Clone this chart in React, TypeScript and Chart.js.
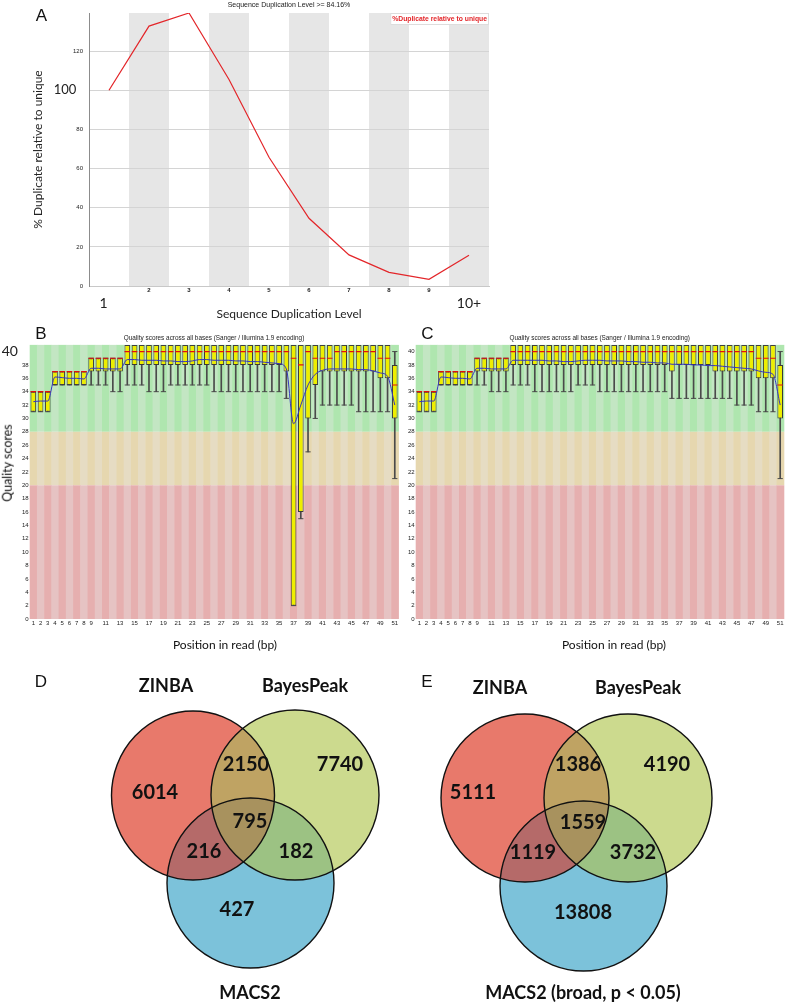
import React, { useEffect, useRef } from "react";
import { Chart, registerables } from "chart.js";

Chart.register(...registerables);

// ---------------- Panel A data ----------------
const dupLevels = ["1", "2", "3", "4", "5", "6", "7", "8", "9", "10+"];
const dupPercent = [100, 132.8, 139.5, 105.5, 65.8, 34.6, 15.9, 7.0, 3.4, 15.7];
const dupAxisMax = 139.5;
const dupTickStep = 20;
const dupTitle = "Sequence Duplication Level >= 84.16%";
const dupSeriesName = "%Duplicate relative to unique";

// ---------------- Panels B / C data ----------------
const readPositions = [
  "1", "2", "3", "4", "5", "6", "7", "8", "9", "10", "11", "12", "13", "14", "15", "16", "17",
  "18", "19", "20", "21", "22", "23", "24", "25", "26", "27", "28", "29", "30", "31", "32", "33",
  "34", "35", "36", "37", "38", "39", "40", "41", "42", "43", "44", "45", "46", "47", "48", "49",
  "50", "51",
];
const qualTitle = "Quality scores across all bases (Sanger / Illumina 1.9 encoding)";
const qualTickStep = 2;
const qualAxisMax = 41;

const q1B = [31, 31, 31, 35, 35, 35, 35, 35, 37, 37, 37, 37, 37, 38, 38, 38, 38, 38, 38, 38, 38, 38, 38, 38, 38, 38, 38, 38, 38, 38, 38, 38, 38, 38, 38, 37, 2, 16, 30, 35, 37, 37, 37, 37, 37, 37, 37, 37, 36, 36, 30];
const q3B = [34, 34, 34, 37, 37, 37, 37, 37, 39, 39, 39, 39, 39, 41, 41, 41, 41, 41, 41, 41, 41, 41, 41, 41, 41, 41, 41, 41, 41, 41, 41, 41, 41, 41, 41, 41, 41, 41, 41, 41, 41, 41, 41, 41, 41, 41, 41, 41, 41, 41, 38];
const medB = [34, 34, 34, 37, 37, 37, 37, 37, 39, 39, 39, 39, 39, 40, 40, 40, 40, 40, 40, 40, 40, 40, 40, 40, 40, 40, 40, 40, 40, 40, 40, 40, 40, 40, 40, 40, 39, 38, 40, 39, 39, 39, 40, 40, 40, 40, 40, 40, 39, 39, 35];
const lowB = [31, 31, 31, 35, 35, 35, 35, 35, 35, 35, 35, 34, 34, 35, 35, 35, 34, 34, 34, 35, 35, 35, 35, 35, 35, 34, 34, 34, 34, 34, 34, 34, 34, 34, 34, 33, 2, 15, 25, 30, 32, 32, 32, 32, 32, 31, 31, 31, 31, 31, 21];
const highB = [34, 34, 34, 37, 37, 37, 37, 37, 39, 39, 39, 39, 39, 41, 41, 41, 41, 41, 41, 41, 41, 41, 41, 41, 41, 41, 41, 41, 41, 41, 41, 41, 41, 41, 41, 41, 41, 41, 41, 41, 41, 41, 41, 41, 41, 41, 41, 41, 41, 41, 40];
const meanB = [32.5, 32.6, 32.6, 36.2, 36.1, 36.0, 36.0, 35.9, 37.5, 37.5, 37.4, 37.4, 37.4, 38.8, 38.8, 38.7, 38.7, 38.7, 38.6, 38.6, 38.5, 38.5, 38.6, 38.8, 38.8, 38.7, 38.7, 38.7, 38.6, 38.6, 38.5, 38.5, 38.4, 38.3, 38.2, 37.4, 29.2, 32.0, 35.0, 36.6, 37.2, 37.4, 37.4, 37.4, 37.4, 37.3, 37.3, 37.1, 36.8, 36.3, 32.0];

const q1C = [31, 31, 31, 35, 35, 35, 35, 35, 37, 37, 37, 37, 37, 38, 38, 38, 38, 38, 38, 38, 38, 38, 38, 38, 38, 38, 38, 38, 38, 38, 38, 38, 38, 38, 38, 37, 38, 38, 38, 38, 38, 37, 37, 37, 37, 37, 37, 36, 36, 36, 30];
const q3C = [34, 34, 34, 37, 37, 37, 37, 37, 39, 39, 39, 39, 39, 41, 41, 41, 41, 41, 41, 41, 41, 41, 41, 41, 41, 41, 41, 41, 41, 41, 41, 41, 41, 41, 41, 41, 41, 41, 41, 41, 41, 41, 41, 41, 41, 41, 41, 41, 41, 41, 38];
const medC = [34, 34, 34, 37, 37, 37, 37, 37, 39, 39, 39, 39, 39, 40, 40, 40, 40, 40, 40, 40, 40, 40, 40, 40, 40, 40, 40, 40, 40, 40, 40, 40, 40, 40, 40, 40, 40, 40, 40, 40, 40, 40, 40, 40, 40, 40, 40, 39, 39, 39, 35];
const lowC = [31, 31, 31, 35, 35, 35, 35, 35, 35, 35, 34, 34, 34, 35, 35, 35, 34, 34, 34, 34, 34, 34, 35, 35, 35, 34, 34, 34, 34, 34, 34, 34, 34, 34, 34, 33, 33, 33, 33, 33, 33, 33, 33, 33, 32, 32, 32, 31, 31, 31, 21];
const highC = [34, 34, 34, 37, 37, 37, 37, 37, 39, 39, 39, 39, 39, 41, 41, 41, 41, 41, 41, 41, 41, 41, 41, 41, 41, 41, 41, 41, 41, 41, 41, 41, 41, 41, 41, 41, 41, 41, 41, 41, 41, 41, 41, 41, 41, 41, 41, 41, 41, 41, 40];
const meanC = [32.5, 32.6, 32.6, 36.2, 36.1, 36.0, 36.0, 35.9, 37.5, 37.5, 37.4, 37.4, 37.4, 38.7, 38.7, 38.7, 38.7, 38.7, 38.6, 38.6, 38.5, 38.5, 38.6, 38.7, 38.7, 38.7, 38.6, 38.6, 38.6, 38.5, 38.5, 38.4, 38.4, 38.3, 38.3, 38.1, 38.1, 38.1, 38.0, 38.0, 37.9, 37.9, 37.8, 37.7, 37.6, 37.5, 37.4, 37.1, 36.9, 36.6, 32.0];

// ---------------- Panels D / E data ----------------
// region order: A only, B only, C only, A&B, A&C, B&C, A&B&C
const vennSetsD = ["ZINBA", "BayesPeak", "MACS2"];
const vennCountsD = [6014, 7740, 427, 2150, 216, 182, 795];
const vennSetsE = ["ZINBA", "BayesPeak", "MACS2 (broad, p < 0.05)"];
const vennCountsE = [5111, 4190, 13808, 1386, 1119, 3732, 1559];

// ---------------- styling / layout ----------------
const SMALL = "'Liberation Sans', Arial, sans-serif";
const BIG = "Lato, 'Open Sans', sans-serif";

const VENN_COLORS = ["#e8796b", "#ccda8e", "#7cc2da", "#bfa363", "#b56a69", "#9cc283", "#a8925e"];

const VENN_LAYOUT_D = {
  width: 395,
  height: 346,
  circles: [
    { cx: 193, cy: 135.5, rx: 81.5, ry: 84.5 },
    { cx: 295, cy: 135, rx: 84, ry: 85 },
    { cx: 250.5, cy: 223, rx: 83.5, ry: 85 },
  ],
  setLabels: [
    { x: 166, y: 26 },
    { x: 305, y: 26 },
    { x: 250, y: 333 },
  ],
  countPos: [
    { x: 155, y: 133 },
    { x: 340, y: 105 },
    { x: 237, y: 250 },
    { x: 246, y: 105 },
    { x: 204, y: 192 },
    { x: 296, y: 192 },
    { x: 250, y: 162 },
  ],
};

const VENN_LAYOUT_E = {
  width: 394,
  height: 346,
  circles: [
    { cx: 130, cy: 138, rx: 84, ry: 84 },
    { cx: 233, cy: 138, rx: 84, ry: 84 },
    { cx: 188.5, cy: 226, rx: 83.5, ry: 85 },
  ],
  setLabels: [
    { x: 105, y: 28 },
    { x: 243, y: 28 },
    { x: 188, y: 333 },
  ],
  countPos: [
    { x: 78, y: 133 },
    { x: 272, y: 105 },
    { x: 188, y: 253 },
    { x: 183, y: 105 },
    { x: 138, y: 193 },
    { x: 238, y: 193 },
    { x: 188, y: 163 },
  ],
};

// ---------------- plugins ----------------
const dupBandsPlugin = {
  id: "dupBands",
  beforeDraw(chart: any) {
    const { ctx, chartArea: a, scales } = chart;
    const x = scales.x;
    const n = chart.data.labels.length;
    const w = (a.right - a.left) / n;
    ctx.save();
    ctx.fillStyle = "#e6e6e6";
    for (let i = 1; i < n; i += 2) {
      const cx = x.getPixelForValue(i);
      ctx.fillRect(cx - w / 2, a.top, w, a.bottom - a.top);
    }
    ctx.restore();
  },
};

const seriesKeyPlugin = {
  id: "seriesKey",
  afterDraw(chart: any) {
    const { ctx, chartArea: a } = chart;
    const ds = chart.data.datasets[0];
    ctx.save();
    ctx.font = `bold 6.8px ${SMALL}`;
    const tw = ctx.measureText(ds.label).width;
    const h = 12;
    const x0 = a.right - tw - 4;
    const y0 = a.top;
    ctx.fillStyle = "#ffffff";
    ctx.fillRect(x0, y0, tw + 4, h);
    ctx.strokeStyle = "#dddddd";
    ctx.lineWidth = 1;
    ctx.strokeRect(x0 + 0.5, y0 + 0.5, tw + 3, h - 1);
    ctx.fillStyle = ds.borderColor;
    ctx.textBaseline = "middle";
    ctx.textAlign = "left";
    ctx.fillText(ds.label, x0 + 2, y0 + h / 2 + 0.5);
    ctx.restore();
  },
};

const qualZones = [
  { from: 28, to: qualAxisMax, colors: ["#afe6af", "#c3e6c3"] },
  { from: 20, to: 28, colors: ["#e6d7af", "#e6dcc3"] },
  { from: 0, to: 20, colors: ["#e6afaf", "#e6c3c3"] },
];

const qualStripesPlugin = {
  id: "qualStripes",
  beforeDraw(chart: any) {
    const { ctx, chartArea: a, scales } = chart;
    const x = scales.x;
    const y = scales.y;
    const n = chart.data.labels.length;
    const w = (a.right - a.left) / n;
    ctx.save();
    for (const z of qualZones) {
      const top = y.getPixelForValue(z.to);
      const bot = y.getPixelForValue(z.from);
      for (let i = 0; i < n; i++) {
        const cx = x.getPixelForValue(i);
        ctx.fillStyle = z.colors[i % 2];
        ctx.fillRect(cx - w / 2, top, w + 0.5, bot - top);
      }
    }
    ctx.restore();
  },
};

const vennPlugin = {
  id: "venn",
  afterDatasetsDraw(chart: any, _args: any, opts: any) {
    const { ctx, scales } = chart;
    const x = scales.x;
    const y = scales.y;
    const layout = opts.layout;
    const ell = (c: any) => {
      const px = x.getPixelForValue(c.cx);
      const py = y.getPixelForValue(c.cy);
      const rx = Math.abs(x.getPixelForValue(c.cx + c.rx) - px);
      const ry = Math.abs(y.getPixelForValue(c.cy + c.ry) - py);
      ctx.beginPath();
      ctx.ellipse(px, py, rx, ry, 0, 0, Math.PI * 2);
    };
    const cs = layout.circles;
    const colors = opts.colors;
    ctx.save();
    cs.forEach((c: any, i: number) => {
      ell(c);
      ctx.fillStyle = colors[i];
      ctx.fill();
    });
    const pairs = [
      [0, 1, 3],
      [0, 2, 4],
      [1, 2, 5],
    ];
    pairs.forEach(([a, b, k]) => {
      ctx.save();
      ell(cs[a]);
      ctx.clip();
      ell(cs[b]);
      ctx.fillStyle = colors[k];
      ctx.fill();
      ctx.restore();
    });
    ctx.save();
    ell(cs[0]);
    ctx.clip();
    ell(cs[1]);
    ctx.clip();
    ell(cs[2]);
    ctx.fillStyle = colors[6];
    ctx.fill();
    ctx.restore();
    ctx.strokeStyle = "#111111";
    ctx.lineWidth = 1.4;
    cs.forEach((c: any) => {
      ell(c);
      ctx.stroke();
    });
    // texts
    ctx.fillStyle = "#111111";
    ctx.textAlign = "center";
    ctx.textBaseline = "middle";
    ctx.font = `bold 20px ${BIG}`;
    opts.counts.forEach((v: number, i: number) => {
      const p = layout.countPos[i];
      ctx.fillText(String(v), x.getPixelForValue(p.x), y.getPixelForValue(p.y));
    });
    ctx.font = `bold 18px ${BIG}`;
    chart.data.datasets.forEach((ds: any, i: number) => {
      const p = layout.setLabels[i];
      ctx.fillText(ds.label, x.getPixelForValue(p.x), y.getPixelForValue(p.y));
    });
    ctx.restore();
  },
};

// ---------------- configs ----------------
function makeDupConfig(): any {
  return {
    type: "line",
    data: {
      labels: dupLevels,
      datasets: [
        {
          label: dupSeriesName,
          data: dupPercent,
          borderColor: "#e3262a",
          borderWidth: 1.2,
          pointRadius: 0,
          tension: 0,
          fill: false,
        },
      ],
    },
    options: {
      responsive: false,
      animation: false,
      layout: { padding: { left: 0, right: 11, top: 0, bottom: 0 } },
      plugins: {
        legend: { display: false },
        tooltip: { enabled: false },
        title: {
          display: true,
          text: dupTitle,
          fullSize: false,
          color: "#222",
          font: { family: SMALL, size: 7, weight: "normal" },
          padding: { top: 1, bottom: 3.6 },
        },
      },
      scales: {
        x: {
          type: "category",
          offset: true,
          grid: { display: false, drawTicks: false },
          border: { display: true, color: "#c8c8c8" },
          ticks: {
            autoSkip: false,
            maxRotation: 0,
            minRotation: 0,
            padding: 1,
            color: "#222",
            font: (c: any) =>
              c.index === 0 || c.index === dupLevels.length - 1
                ? { family: BIG, size: 14, lineHeight: 2.3 }
                : { family: SMALL, size: 6, weight: "bold" },
            callback: function (this: any, v: any, i: number) {
              const l = this.getLabelForValue(v);
              return i === 0 ? l + "   " : l;
            },
          },
          afterFit: (s: any) => {
            s.height = 39;
          },
          title: {
            display: true,
            text: "Sequence Duplication Level",
            color: "#222",
            font: { family: BIG, size: 12 },
            padding: { top: 0, bottom: 3.8 },
          },
        },
        y: {
          min: 0,
          max: dupAxisMax,
          grid: { color: "#d4d4d4", drawTicks: false },
          border: { display: true, color: "#8c8c8c" },
          ticks: {
            stepSize: dupTickStep,
            includeBounds: false,
            autoSkip: false,
            padding: 6,
            color: "#222",
            font: (c: any) =>
              c.tick && c.tick.value === 100
                ? { family: BIG, size: 13 }
                : { family: SMALL, size: 6 },
            callback: (v: any) => (v === 100 ? "100  " : String(v)),
          },
          afterFit: (s: any) => {
            s.width = 89;
          },
          title: {
            display: true,
            text: "% Duplicate relative to unique",
            color: "#222",
            font: { family: BIG, size: 12 },
            padding: { top: 30.8, bottom: 0 },
          },
        },
      },
    },
    plugins: [dupBandsPlugin, seriesKeyPlugin],
  };
}

function makeQualConfig(p: any): any {
  const { q1, q3, med, low, high, mean, bigTop, axisWidth, padRight } = p;
  return {
    type: "bar",
    data: {
      labels: readPositions,
      datasets: [
        {
          type: "bar",
          label: "10%-90%",
          data: low.map((l: number, i: number) => [l, high[i]]),
          backgroundColor: "#4a4a4a",
          barThickness: 1,
          grouped: false,
          order: 5,
        },
        {
          type: "bar",
          label: "Inter-quartile range",
          data: q1.map((v: number, i: number) => [v, q3[i]]),
          backgroundColor: "#eeee00",
          borderColor: "#3a3a3a",
          borderWidth: 1,
          borderSkipped: false,
          barPercentage: 0.78,
          categoryPercentage: 1,
          grouped: false,
          order: 4,
        },
        {
          type: "line",
          label: "10% cap",
          data: low,
          showLine: false,
          pointStyle: "line",
          pointRadius: 2.6,
          pointBorderColor: "#4a4a4a",
          pointBorderWidth: 1,
          order: 3,
        },
        {
          type: "line",
          label: "90% cap",
          data: high,
          showLine: false,
          pointStyle: "line",
          pointRadius: 2.6,
          pointBorderColor: "#4a4a4a",
          pointBorderWidth: 1,
          order: 3,
        },
        {
          type: "line",
          label: "Median",
          data: med,
          showLine: false,
          pointStyle: "line",
          pointRadius: 2.8,
          pointBorderColor: "#e01010",
          pointBorderWidth: 1.2,
          order: 2,
        },
        {
          type: "line",
          label: "Mean",
          data: mean,
          borderColor: "#3535c0",
          borderWidth: 1,
          pointRadius: 0,
          cubicInterpolationMode: "monotone",
          order: 1,
        },
      ],
    },
    options: {
      responsive: false,
      animation: false,
      layout: { padding: { left: 0, right: padRight, top: 0, bottom: 0 } },
      plugins: {
        legend: { display: false },
        tooltip: { enabled: false },
        title: {
          display: true,
          text: qualTitle,
          fullSize: false,
          color: "#222",
          font: { family: SMALL, size: 6.4, weight: "normal" },
          padding: { top: 4.6, bottom: 2.6 },
        },
      },
      scales: {
        x: {
          grid: { display: false, drawTicks: false },
          border: { display: false },
          ticks: {
            autoSkip: false,
            maxRotation: 0,
            minRotation: 0,
            padding: 1,
            color: "#222",
            font: { family: SMALL, size: 6 },
            callback: function (this: any, v: any, i: number) {
              return i < 9 || i % 2 === 0 ? this.getLabelForValue(v) : "";
            },
          },
          afterFit: (s: any) => {
            s.height = 46;
          },
        },
        y: {
          min: 0,
          max: qualAxisMax,
          grid: { display: false, drawTicks: false },
          border: { display: false },
          ticks: {
            stepSize: qualTickStep,
            includeBounds: false,
            autoSkip: false,
            padding: 1,
            color: "#222",
            font: (c: any) =>
              bigTop && c.tick && c.tick.value === 40
                ? { family: BIG, size: 14 }
                : { family: SMALL, size: 6 },
            callback: (v: any) => (bigTop && v === 40 ? "40   " : String(v)),
          },
          afterFit: (s: any) => {
            s.width = axisWidth;
          },
        },
      },
    },
    plugins: [qualStripesPlugin],
  };
}

function makeVennConfig(sets: string[], counts: number[], layout: any): any {
  return {
    type: "scatter",
    data: {
      datasets: sets.map((name, i) => ({
        label: name,
        data: [{ x: layout.circles[i].cx, y: layout.circles[i].cy }],
        pointRadius: 0,
      })),
    },
    options: {
      responsive: false,
      animation: false,
      layout: { padding: 0 },
      plugins: {
        legend: { display: false },
        tooltip: { enabled: false },
        venn: { layout, counts, colors: VENN_COLORS },
      },
      scales: {
        x: { type: "linear", min: 0, max: layout.width, display: false },
        y: { type: "linear", min: 0, max: layout.height, reverse: true, display: false },
      },
    },
    plugins: [vennPlugin],
  };
}

// ---------------- components ----------------
function ChartBox(props: { left: number; top: number; width: number; height: number; make: () => any }) {
  const ref = useRef<HTMLCanvasElement | null>(null);
  useEffect(() => {
    const chart = new Chart(ref.current as HTMLCanvasElement, props.make());
    return () => chart.destroy();
  }, []);
  return (
    <canvas
      ref={ref}
      width={props.width}
      height={props.height}
      style={{ position: "absolute", left: props.left, top: props.top, width: props.width, height: props.height }}
    />
  );
}

function Txt(props: { x: number; y: number; size: number; family?: string; rotate?: number; children: any; weight?: string }) {
  return (
    <div
      style={{
        position: "absolute",
        left: props.x,
        top: props.y,
        transform: `translate(-50%, -50%)${props.rotate ? ` rotate(${props.rotate}deg)` : ""}`,
        fontFamily: props.family || SMALL,
        fontSize: props.size,
        fontWeight: (props.weight as any) || "normal",
        lineHeight: 1,
        whiteSpace: "nowrap",
        color: "#111",
      }}
    >
      {props.children}
    </div>
  );
}

export default function App() {
  return (
    <div
      style={{
        position: "absolute",
        left: 0,
        top: 0,
        width: 789,
        height: 1006,
        background: "#ffffff",
        overflow: "hidden",
      }}
    >
      <ChartBox left={0} top={0} width={500} height={325} make={makeDupConfig} />
      <ChartBox
        left={0}
        top={330}
        width={410}
        height={335}
        make={() =>
          makeQualConfig({ q1: q1B, q3: q3B, med: medB, low: lowB, high: highB, mean: meanB, bigTop: true, axisWidth: 29.7, padRight: 11.6 })
        }
      />
      <ChartBox
        left={390}
        top={330}
        width={399}
        height={335}
        make={() =>
          makeQualConfig({ q1: q1C, q3: q3C, med: medC, low: lowC, high: highC, mean: meanC, bigTop: false, axisWidth: 25.7, padRight: 4.7 })
        }
      />
      <ChartBox left={0} top={660} width={395} height={346} make={() => makeVennConfig(vennSetsD, vennCountsD, VENN_LAYOUT_D)} />
      <ChartBox left={395} top={660} width={394} height={346} make={() => makeVennConfig(vennSetsE, vennCountsE, VENN_LAYOUT_E)} />

      <Txt x={41.5} y={15} size={17}>A</Txt>
      <Txt x={41} y={333} size={17}>B</Txt>
      <Txt x={427.5} y={333} size={17}>C</Txt>
      <Txt x={41} y={681} size={17}>D</Txt>
      <Txt x={427} y={681} size={17}>E</Txt>
      <Txt x={8} y={463} size={12.5} family={BIG} rotate={-90}>Quality scores</Txt>
      <Txt x={225} y={645} size={12} family={BIG}>Position in read (bp)</Txt>
      <Txt x={614} y={645} size={12} family={BIG}>Position in read (bp)</Txt>
    </div>
  );
}
